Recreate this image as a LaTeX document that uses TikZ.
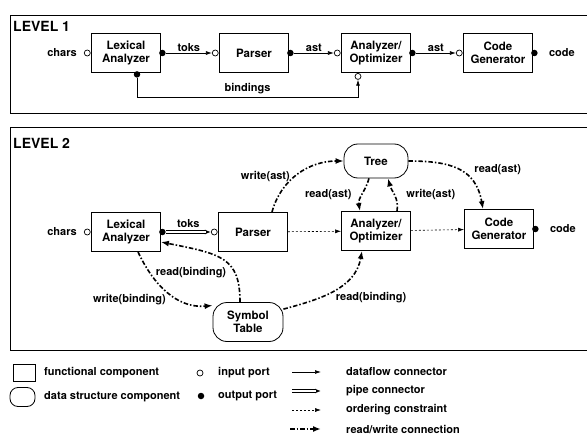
\documentclass[tikz,border=0pt]{standalone}
\usepackage{fontspec}
\setmainfont{TeX Gyre Heros}
\usetikzlibrary{arrows.meta,positioning}

\newcommand{\compfont}{\fontsize{11.5}{13}\selectfont\bfseries}
\newcommand{\lblfont}{\fontsize{11}{12}\selectfont\bfseries}
\newcommand{\levelfont}{\fontsize{14}{16}\selectfont\bfseries}

\tikzset{
	comp/.style={draw, line width=0.8pt, minimum width=69pt, minimum height=39pt, align=center, font=\compfont, inner sep=2pt},
	store/.style={draw, line width=0.8pt, rounded corners=14pt, minimum width=64pt, minimum height=34pt, align=center, font=\compfont, inner sep=2pt},
	inport/.style={circle, draw, fill=white, line width=0.7pt, inner sep=0pt, minimum size=6pt},
	outport/.style={circle, fill, inner sep=0pt, minimum size=6.5pt},
	flow/.style={line width=0.7pt, -{Latex[length=6pt,width=4pt]}},
	pipe/.style={line width=3.2pt, -{Latex[length=6pt,width=5pt]}, postaction={draw=white, line width=1.2pt, -, shorten >=5pt}},
	order/.style={line width=0.6pt, dash pattern=on 2pt off 2pt, -{Latex[length=6pt,width=4pt]}},
	rw/.style={line width=1.6pt, dash pattern=on 4.5pt off 2pt on 1.5pt off 2pt, -{Latex[length=8pt,width=6pt]}},
	lbl/.style={font=\lblfont, inner sep=1pt},
	frame/.style={line width=0.7pt}
}

\begin{document}
\begin{tikzpicture}[x=1pt, y=1pt]
	\useasboundingbox (0,0) rectangle (587,-444);
	% level 1
	\draw [frame] (587,-15) -- (10,-15) -- (10,-113) -- (587,-113);
	\node [anchor=base west, font=\levelfont, inner sep=0pt] (lv1) at (13,-32) {LEVEL 1};
	\node [comp] (lex1) at (126,-53) {Lexical\\Analyzer};
	\node [comp] (parse1) at (254,-53) {Parser};
	\node [comp] (ana1) at (376,-53) {Analyzer/\\Optimizer};
	\node [comp] (code1) at (498,-53) {Code\\Generator};
	\node [inport, left=0.5pt of lex1] (lex1in) {};
	\node [outport] (lex1out) at ([xshift=1.5pt]lex1.east) {};
	\node [outport] (lex1bot) at ([xshift=11pt,yshift=-1.5pt]lex1.south) {};
	\node [inport, left=0.5pt of parse1] (parse1in) {};
	\node [outport] (parse1out) at ([xshift=1.5pt]parse1.east) {};
	\node [inport, left=0.5pt of ana1] (ana1in) {};
	\node [outport] (ana1out) at ([xshift=1.5pt]ana1.east) {};
	\node [inport] (ana1bot) at ([xshift=-18pt,yshift=-3.5pt]ana1.south) {};
	\node [inport, left=0.5pt of code1] (code1in) {};
	\node [outport] (code1out) at ([xshift=1.5pt]code1.east) {};
	\node [lbl, left=6pt of lex1in] (chars1) {chars};
	\node [lbl, right=10pt of code1out] (codetxt1) {code};
	\draw [flow] (lex1out) -- node[lbl, above] {toks} (parse1in);
	\draw [flow] (parse1out) -- node[lbl, above] {ast} (ana1in);
	\draw [flow] (ana1out) -- node[lbl, above] {ast} (code1in);
	\coordinate (bindrow) at (0,-97);
	\draw [flow] (lex1bot) -- (lex1bot |- bindrow) -- node[lbl, above=2pt] {bindings} (ana1bot |- bindrow) -- (ana1bot);
	% level 2
	\draw [frame] (587,-127) -- (10,-127) -- (10,-350) -- (587,-350);
	\node [anchor=base west, font=\levelfont, inner sep=0pt] (lv2) at (13,-148) {LEVEL 2};
	\node [comp] (lex2) at (126,-232) {Lexical\\Analyzer};
	\node [comp] (parse2) at (253,-232) {Parser};
	\node [comp] (ana2) at (376,-231) {Analyzer/\\Optimizer};
	\node [comp] (code2) at (499,-229) {Code\\Generator};
	\node [store] (tree) at (376,-161) {Tree};
	\node [store, minimum width=70pt, minimum height=39pt] (symtab) at (248,-322) {Symbol\\Table};
	\node [inport, left=0.5pt of lex2] (lex2in) {};
	\node [outport] (lex2out) at ([xshift=1.5pt]lex2.east) {};
	\node [inport, left=0.5pt of parse2] (parse2in) {};
	\node [outport] (code2out) at ([xshift=1.5pt]code2.east) {};
	\node [lbl, left=6pt of lex2in] (chars2) {chars};
	\node [lbl, right=10pt of code2out] (codetxt2) {code};
	\draw [pipe] (lex2out) -- node[lbl, above=1.5pt] {toks} (parse2in);
	\draw [order] (parse2) -- (ana2);
	\draw [order] (ana2) -- (code2);
	\draw [rw] ([xshift=19pt]parse2.north) to[out=75,in=180] node[lbl, pos=0.45, left=3pt] {write(ast)} (tree.west);
	\draw [rw] ([xshift=-7pt]tree.south) to[out=-105,in=100] node[lbl, left=9pt] {read(ast)} ([xshift=-16pt]ana2.north);
	\draw [rw] ([xshift=21pt]ana2.north) to[out=80,in=-75] node[lbl, right=10pt] {write(ast)} ([xshift=12pt]tree.south);
	\draw [rw] (tree.east) to[out=0,in=100,looseness=1.2] node[lbl, right=14pt] {read(ast)} ([xshift=-16pt]code2.north);
	\draw [rw] ([xshift=12pt]lex2.south) to[out=-65,in=185] node[lbl, pos=0.5, below left] {write(binding)} (symtab.155);
	\draw [rw] ([xshift=-8pt]symtab.north) .. controls +(0,45) and +(60,-12) .. node[lbl, pos=0.5, anchor=north east, xshift=5pt, yshift=-6pt] {read(binding)} ([yshift=-10pt]lex2.east);
	\draw [rw] (symtab.20) to[out=15,in=-100] node[lbl, pos=0.5, below right] {read(binding)} ([xshift=-14pt]ana2.south);
	% legend
	\node [comp, minimum width=22pt, minimum height=17pt, inner sep=0pt] (lgcomp) at (24,-373) {};
	\node [lbl, anchor=west] (lgcomptxt) at (43,-373) {functional component};
	\node [store, minimum width=25pt, minimum height=19pt, rounded corners=8pt, inner sep=0pt] (lgstore) at (22.5,-397) {};
	\node [lbl, anchor=west] (lgstoretxt) at (43,-397) {data structure component};
	\node [inport] (lgin) at (200,-373) {};
	\node [lbl, anchor=west] (lgintxt) at (217,-373) {input port};
	\node [outport] (lgout) at (201,-396) {};
	\node [lbl, anchor=west] (lgouttxt) at (217,-396) {output port};
	\node [lbl, anchor=west] (lgflow) at (345,-372) {dataflow connector};
	\node [lbl, anchor=west] (lgpipe) at (345,-391) {pipe connector};
	\node [lbl, anchor=west] (lgorder) at (345,-410) {ordering constraint};
	\node [lbl, anchor=west] (lgrw) at (345,-429) {read/write connection};
	\draw [flow] ([xshift=-53pt]lgflow.west) -- ([xshift=-24pt]lgflow.west);
	\draw [pipe] ([xshift=-53pt]lgpipe.west) -- ([xshift=-24pt]lgpipe.west);
	\draw [order] ([xshift=-53pt]lgorder.west) -- ([xshift=-24pt]lgorder.west);
	\draw [rw] ([xshift=-55pt]lgrw.west) -- ([xshift=-24pt]lgrw.west);
\end{tikzpicture}
\end{document}
